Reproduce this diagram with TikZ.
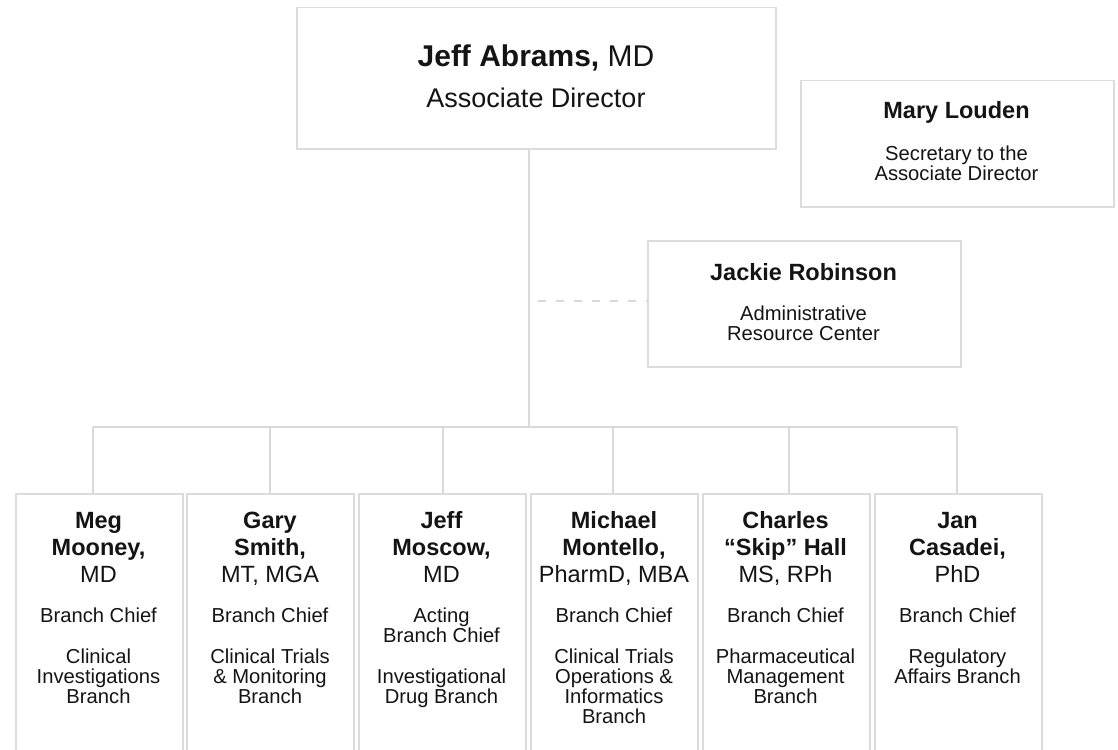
\documentclass[tikz,border=0pt]{standalone}
\usepackage{fontspec}
\setmainfont{Liberation Sans}
\definecolor{boxline}{HTML}{DCDCDC}
\definecolor{linkline}{HTML}{D9D9D9}
\definecolor{ink}{HTML}{141414}

\begin{document}
\begin{tikzpicture}[x=1pt, y=-1pt,
  box/.style={draw=boxline, line width=1.5pt, fill=white, inner sep=0pt, anchor=north west},
  unit/.style={box, minimum width=167pt, minimum height=290pt},
  % multi-line texts are placed by the baseline of their last line
  txt/.style={anchor=base, inner sep=0pt, text=ink, align=center},
  namefont/.style={font={\fontsize{23.5}{27}\selectfont}},
  smallfont/.style={font={\fontsize{20.2}{20}\selectfont}},
  link/.style={draw=linkline, line width=1.5pt},
  dotted link/.style={link, dash pattern=on 8pt off 10pt}
]
\useasboundingbox (0,0) rectangle (1118,749);
\clip (0,0) rectangle (1118,749);

% --- director ---
\node[box, minimum width=479pt, minimum height=141pt] (dir) at (296,7) {};
\node[txt, font={\fontsize{30}{30}\selectfont}] (dirname) at (536,67) {\textbf{Jeff Abrams,} MD};
\node[txt, font={\fontsize{27}{27}\selectfont}] (dirtitle) at (536,107) {Associate Director};

% --- secretary ---
\node[box, minimum width=313pt, minimum height=126pt] (sec) at (800,80) {};
\node[txt, font={\bfseries\fontsize{23.5}{23.5}\selectfont}] (secname) at (956.5,119) {Mary Louden};
\node[txt, smallfont] (sectitle) at (956.5,180) {Secretary to the\\Associate Director};

% --- administrative resource center ---
\node[box, minimum width=313pt, minimum height=126pt] (arc) at (647,240) {};
\node[txt, font={\bfseries\fontsize{23.5}{23.5}\selectfont}] (arcname) at (803.5,280) {Jackie Robinson};
\node[txt, smallfont] (arctitle) at (803.5,340) {Administrative\\Resource Center};

% --- branches ---
\node[unit] (b1) at (15,493) {};
\node[unit] (b2) at (186,493) {};
\node[unit] (b3) at (358,493) {};
\node[unit] (b4) at (530,493) {};
\node[unit] (b5) at (702,493) {};
\node[unit] (b6) at (874,493) {};

\node[txt, namefont] (n1) at (98.5,582) {\textbf{Meg}\\\textbf{Mooney,}\\MD};
\node[txt, smallfont] (t1) at (98.5,703) {Branch Chief\\[21pt]Clinical\\Investigations\\Branch};

\node[txt, namefont] (n2) at (270,582) {\textbf{Gary}\\\textbf{Smith,}\\MT, MGA};
\node[txt, smallfont] (t2) at (270,703) {Branch Chief\\[21pt]Clinical Trials\\\& Monitoring\\Branch};

\node[txt, namefont] (n3) at (441.5,582) {\textbf{Jeff}\\\textbf{Moscow,}\\MD};
\node[txt, smallfont] (t3) at (441.5,703) {Acting\\Branch Chief\\[21pt]Investigational\\Drug Branch};

\node[txt, namefont] (n4) at (614,582) {\textbf{Michael}\\\textbf{Montello,}\\PharmD, MBA};
\node[txt, smallfont] (t4) at (614,723) {Branch Chief\\[21pt]Clinical Trials\\Operations \&\\Informatics\\Branch};

\node[txt, namefont] (n5) at (785.5,582) {\textbf{Charles}\\\textbf{“Skip” Hall}\\MS, RPh};
\node[txt, smallfont] (t5) at (785.5,703) {Branch Chief\\[21pt]Pharmaceutical\\Management\\Branch};

\node[txt, namefont] (n6) at (957.5,582) {\textbf{Jan}\\\textbf{Casadei,}\\PhD};
\node[txt, smallfont] (t6) at (957.5,683) {Branch Chief\\[21pt]Regulatory\\Affairs Branch};

% --- connectors ---
\coordinate (trunk) at (529,427);
\coordinate (bus1) at (93,427);
\coordinate (bus2) at (270,427);
\coordinate (bus3) at (443,427);
\coordinate (bus4) at (613,427);
\coordinate (bus5) at (789,427);
\coordinate (bus6) at (957,427);
\coordinate (dashstart) at (538,301);

\draw[link] (dir.south -| trunk) -- (trunk);
\draw[link] (bus1) -- (bus6);
\foreach \i in {1,...,6} {
  \draw[link] (bus\i) -- (bus\i |- b\i.north);
}
\draw[dotted link] (dashstart) -- (dashstart -| arc.west);
\end{tikzpicture}
\end{document}
